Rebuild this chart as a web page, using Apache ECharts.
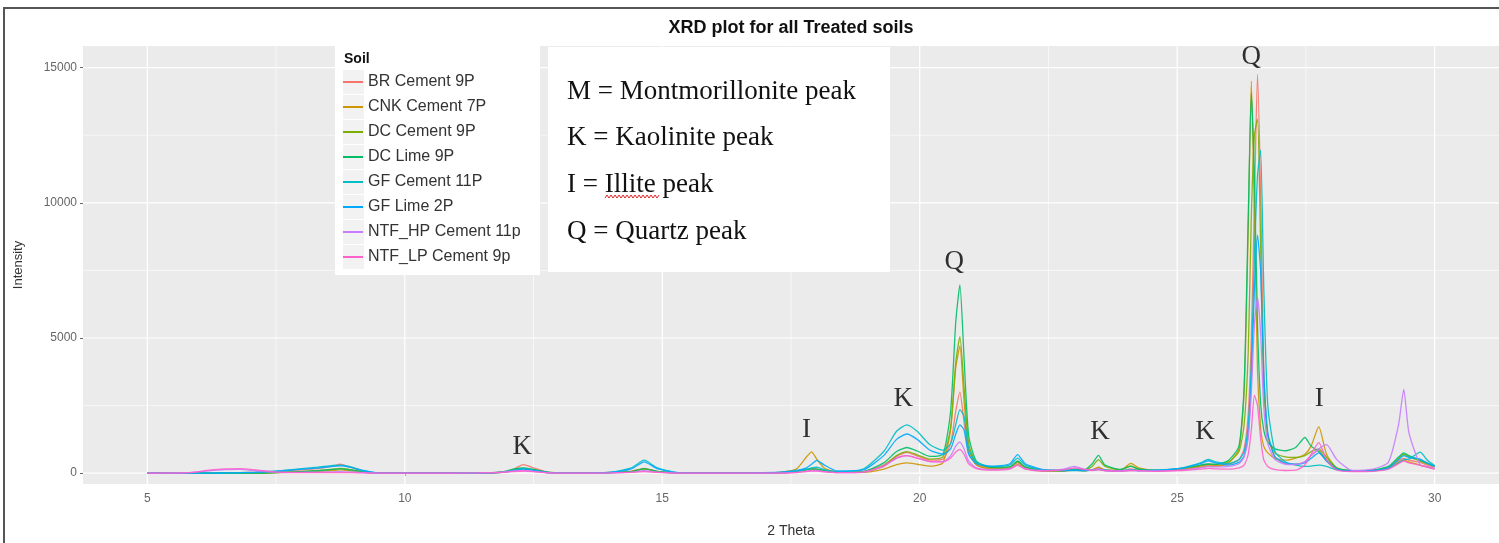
<!DOCTYPE html>
<html><head><meta charset="utf-8">
<script src="https://cdn.jsdelivr.net/npm/echarts@6/dist/echarts.min.js"></script>
<style>html,body{margin:0;padding:0;background:#fff}#c{width:1499px;height:543px}</style>
</head><body><div id="c"></div><script>
// 2-theta sample positions shared by all series
const theta = [5,5.8,6.2,6.5,6.8,7.1,7.5,7.9,8.3,8.6,
8.75,8.9,9.2,9.5,10.5,11.4,11.9,12.1,12.3,12.5,
12.8,13.4,14.0,14.4,14.65,14.9,15.3,16.2,17.2,17.6,
17.8,17.9,18.0,18.15,18.4,18.9,19.3,19.55,19.75,19.95,
20.2,20.45,20.6,20.7,20.78,20.86,20.95,21.1,21.4,21.75,
21.9,22.05,22.4,22.8,23.0,23.2,23.35,23.47,23.6,23.9,
24.1,24.25,24.6,25.1,25.45,25.6,25.75,26.0,26.2,26.3,
26.38,26.44,26.5,26.56,26.62,26.68,26.76,26.9,27.1,27.3,
27.48,27.6,27.75,27.9,28.1,28.4,28.8,29.1,29.3,29.4,
29.5,29.72,29.85,30.0];

const brCement9P = [0,0,0,10,20,30,60,110,170,260,
330,240,80,0,0,0,40,130,320,200,
30,0,30,80,180,70,10,0,10,60,
140,170,150,80,30,40,250,620,770,640,
480,520,1100,2300,3000,1900,750,320,180,200,
380,200,90,90,120,100,130,200,110,90,
160,110,90,150,260,300,280,330,500,900,
2200,5000,10000,14750,10500,4000,1400,600,360,330,
420,650,850,450,150,80,100,200,450,550,
480,400,300,220];

const cnkCement7P = [0,0,0,0,0,0,20,40,60,100,
120,100,40,0,0,0,30,90,150,100,
20,0,20,60,150,60,10,0,20,150,
600,790,520,180,40,30,150,320,380,330,
260,380,1600,3900,4700,2700,900,300,150,180,
320,170,80,80,110,90,120,220,120,110,
360,200,90,140,220,260,260,380,900,3000,
9000,14500,9500,3800,1700,1000,750,550,480,560,
700,1000,1720,700,180,80,90,180,400,480,
420,300,230,160];

const dcCement9P = [0,0,0,0,0,0,20,60,100,150,
180,150,50,0,0,0,40,120,180,120,
30,0,20,60,160,60,10,0,10,50,
120,150,140,80,30,50,300,650,800,680,
520,600,1700,4100,5050,3200,1100,380,200,220,
420,220,100,100,130,120,250,500,250,130,
270,160,100,170,280,330,320,420,800,1800,
4500,9500,12500,13100,8500,3200,1400,750,600,580,
650,800,900,600,200,90,110,220,550,700,
600,450,350,250];

const dcLime9P = [0,0,0,0,0,0,20,50,90,140,
160,130,40,0,0,0,50,150,200,140,
30,0,20,60,170,70,10,0,10,60,
130,160,150,90,30,60,380,800,950,820,
620,700,2300,5600,6960,4300,1400,450,220,230,
450,230,100,100,150,130,350,660,300,140,
250,150,100,180,300,340,330,480,1000,3200,
9500,14050,11000,5500,2600,1600,1150,900,830,950,
1320,1000,800,500,180,90,110,250,600,750,
650,480,380,260];

const gfCement11P = [0,0,0,10,20,40,80,150,220,290,
300,260,100,0,0,0,30,100,170,110,
20,0,40,200,480,200,20,0,20,80,
150,200,220,130,50,150,800,1550,1790,1550,
1050,850,1100,1800,2350,2100,900,400,250,300,
560,300,120,100,100,90,110,140,100,90,
120,100,110,200,380,510,420,350,500,800,
1800,4000,8000,11000,11950,7000,2500,800,420,300,
250,260,300,250,120,80,90,170,380,500,
520,780,500,280];

const gfLime2P = [0,0,0,10,20,30,70,130,190,250,
270,230,90,0,0,0,30,90,150,100,
20,0,30,160,420,170,20,0,30,100,
200,330,475,300,80,120,650,1250,1450,1250,
850,700,900,1450,1790,1600,700,350,250,350,
690,350,130,100,110,100,110,150,110,90,
110,100,110,190,350,460,380,300,400,650,
1500,3500,6800,8800,7500,3800,1500,600,380,330,
380,550,750,450,150,80,90,200,500,650,
580,520,380,250];

const ntfHpCement11p = [0,20,90,130,140,90,40,30,40,50,
60,50,20,0,0,10,40,80,100,70,
10,0,10,40,90,40,0,0,0,30,
80,100,100,60,20,40,250,560,650,560,
430,430,650,1000,1150,900,450,200,130,180,
300,170,100,150,250,150,120,150,100,80,
100,90,80,120,200,240,230,250,350,600,
1300,3000,5500,6500,5200,2500,1100,500,330,320,
420,650,900,1060,500,100,150,400,1800,3100,
1500,300,250,180];

const ntfLpCement9p = [0,20,110,160,170,120,40,20,20,20,
20,20,10,0,0,10,30,60,80,60,
10,0,10,30,60,30,0,0,0,20,
60,80,80,50,20,40,280,560,650,560,
430,420,560,780,880,700,350,170,110,150,
300,150,80,120,200,130,100,120,90,80,
100,90,70,100,150,180,160,150,200,300,
700,1600,2880,2500,1300,500,250,130,100,110,
300,700,1130,500,120,60,70,150,350,450,
380,300,220,150];

const seriesNames = ['BR Cement 9P','CNK Cement 7P','DC Cement 9P','DC Lime 9P','GF Cement 11P','GF Lime 2P','NTF_HP Cement 11p','NTF_LP Cement 9p'];
const seriesValues = [brCement9P,cnkCement7P,dcCement9P,dcLime9P,gfCement11P,gfLime2P,ntfHpCement11p,ntfLpCement9p];
const seriesColors = ['#F8766D','#CD9600','#7CAE00','#00BE67','#00BFC4','#00A9FF','#C77CFF','#FF61CC'];

const xTicks = [5,10,15,20,25,30];
const xMinorTicks = [7.5,12.5,17.5,22.5,27.5];
const yTicks = [0,5000,10000,15000];
const yMinorTicks = [2500,7500,12500];

const peakLabels = [[12.28,985,'K'],[17.80,1606,'I'],[19.68,2738,'K'],[20.67,7811,'Q'],
  [23.50,1533,'K'],[25.54,1533,'K'],[26.44,15403,'Q'],[27.76,2738,'I']];

const legendNote = ['M = Montmorillonite peak','K = Kaolinite peak','I = Illite peak','Q = Quartz peak'];

const X_MIN = 3.75, X_MAX = 31.25, Y_MIN = -400, Y_MAX = 15800;

const gridData = [];
yTicks.forEach(v => gridData.push([X_MIN, v, 0]));
yMinorTicks.forEach(v => gridData.push([X_MIN, v, 1]));
xTicks.forEach(v => gridData.push([v, 0, 2]));
xMinorTicks.forEach(v => gridData.push([v, 0, 3]));

function renderGrid(params, api) {
  const cs = params.coordSys;
  const kind = api.value(2);
  let shape;
  if (kind < 2) {
    const y = api.coord([X_MIN, api.value(1)])[1];
    shape = {x1: cs.x, y1: y, x2: cs.x + cs.width, y2: y};
  } else {
    const x = api.coord([api.value(0), 0])[0];
    shape = {x1: x, y1: cs.y, x2: x, y2: cs.y + cs.height};
  }
  return {type: 'line', shape: shape, style: {stroke: '#FFFFFF', lineWidth: (kind % 2 === 0) ? 1.2 : 0.6}};
}

const chart = echarts.init(document.getElementById('c'));

const series = [{
  type: 'custom', name: '_grid', data: gridData, renderItem: renderGrid,
  encode: {x: 0, y: 1}, z: 1, silent: true, clip: false
}];
seriesNames.forEach((n, i) => {
  series.push({
    type: 'line', name: n,
    data: theta.map((t, j) => [t, seriesValues[i][j]]),
    showSymbol: false, symbol: 'none', smooth: 0.2,
    lineStyle: {width: 1.3, color: seriesColors[i], opacity: 0.9},
    itemStyle: {color: seriesColors[i]},
    z: 2, silent: true
  });
});
series.push({
  type: 'scatter', name: '_peaks', data: peakLabels, symbolSize: 1,
  itemStyle: {color: 'rgba(0,0,0,0)'}, z: 6, silent: true,
  label: {show: true, position: 'inside', formatter: p => p.value[2],
    fontFamily: 'Liberation Serif', fontSize: 27, color: '#000'}
});

const graphics = [
  {type: 'rect', z: 20, silent: true,
   shape: {x: 4, y: 8, width: 1600, height: 700}, style: {fill: 'none', stroke: '#555', lineWidth: 2}},
  {type: 'text', x: 791, y: 28, z: 20, style: {text: 'XRD plot for all Treated soils', textAlign: 'center', textVerticalAlign: 'middle', font: 'bold 18px "Liberation Sans", Arial, sans-serif', fill: '#111'}},
  // legend box
  {type: 'rect', shape: {x: 335, y: 45, width: 205, height: 230}, z: 3, style: {fill: '#FFFFFF'}},
  {type: 'text', x: 344, y: 59, z: 20, style: {text: 'Soil', textVerticalAlign: 'middle', font: 'bold 14px "Liberation Sans", Arial, sans-serif', fill: '#111'}},
  // annotation box
  {type: 'rect', shape: {x: 548, y: 47, width: 342, height: 225}, z: 3, style: {fill: '#FFFFFF'}}
];
for (let i = 0; i < 8; i++) {
  graphics.push({type: 'rect', shape: {x: 343, y: 70 + 25 * i, width: 21, height: 24}, z: 4, style: {fill: '#F2F2F2'}});
}
const noteY = [92, 138, 185, 232];
legendNote.forEach((t, i) => {
  graphics.push({type: 'text', x: 567, y: noteY[i], z: 20, style: {text: t, textVerticalAlign: 'middle', font: '27px "Liberation Serif", "Times New Roman", serif', fill: '#111'}});
});
// spell-check squiggle under "Illite"
const sq = [];
for (let x = 605, k = 0; x <= 660; x += 2, k++) sq.push([x, k % 2 ? 195 : 198]);
graphics.push({type: 'polyline', shape: {points: sq}, z: 21, style: {stroke: '#E02020', lineWidth: 1, fill: 'none'}});

chart.setOption({
  animation: false,
  backgroundColor: '#FFFFFF',
  grid: {left: 83, right: 0, top: 46, bottom: 53, show: true, backgroundColor: '#EBEBEB', borderWidth: 0},
  xAxis: {
    type: 'value', min: X_MIN, max: X_MAX,
    axisLine: {show: false}, splitLine: {show: false},
    axisTick: {show: true, customValues: xTicks, length: 3, lineStyle: {color: '#666'}},
    axisLabel: {customValues: xTicks, color: '#666', fontSize: 12, margin: 9, fontFamily: 'Liberation Sans', formatter: v => String(v)},
    name: '2 Theta', nameLocation: 'middle', nameGap: 40,
    nameTextStyle: {color: '#333', fontSize: 14, fontFamily: 'Liberation Sans'}
  },
  yAxis: {
    type: 'value', min: Y_MIN, max: Y_MAX,
    axisLine: {show: false}, splitLine: {show: false},
    axisTick: {show: true, customValues: yTicks, length: 3, lineStyle: {color: '#666'}},
    axisLabel: {customValues: yTicks, color: '#666', fontSize: 12, margin: 6, fontFamily: 'Liberation Sans', formatter: v => String(v)},
    name: 'Intensity', nameLocation: 'middle', nameGap: 58, nameRotate: 90,
    nameTextStyle: {color: '#333', fontSize: 13, fontFamily: 'Liberation Sans'}
  },
  legend: {
    data: seriesNames, orient: 'vertical', left: 343, top: 74, padding: 0,
    itemWidth: 20, itemHeight: 2, itemGap: 9, icon: 'rect', z: 10,
    selectedMode: false,
    textStyle: {fontSize: 16, color: '#333', lineHeight: 16, fontFamily: 'Liberation Sans'}
  },
  graphic: graphics,
  series: series
});
</script></body></html>
